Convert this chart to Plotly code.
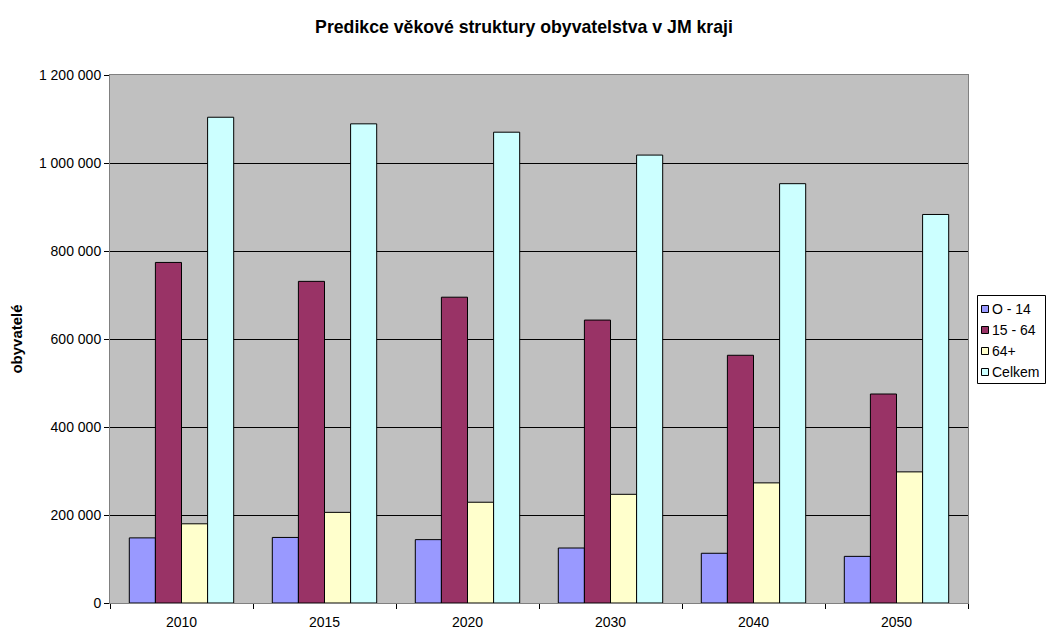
import plotly.graph_objects as go

years = ["2010", "2015", "2020", "2030", "2040", "2050"]
series_names = ["O - 14", "15 - 64", "64+", "Celkem"]
age_0_14 = [148000, 149000, 144000, 125000, 113000, 106000]
age_15_64 = [774000, 731000, 695000, 643000, 563000, 475000]
age_64_plus = [180000, 206000, 229000, 247000, 273000, 298000]
total = [1104000, 1089000, 1070000, 1018000, 953000, 883000]
y_ticks = [0, 200000, 400000, 600000, 800000, 1000000, 1200000]

colors = ["#9999FF", "#993366", "#FFFFCC", "#CCFFFF"]
values = [age_0_14, age_15_64, age_64_plus, total]

FONT = "Liberation Sans, Arial, sans-serif"
W, H = 1047, 633
L, R, T, B = 110, 79, 75, 30
PW, PH = W - L - R, H - T - B


def px_x(px):
    return (px - L) / PW


def px_y(py):
    return (H - B - py) / PH


fig = go.Figure()
for name, vals, col in zip(series_names, values, colors):
    fig.add_trace(go.Bar(
        x=years, y=vals, name=name, showlegend=False,
        marker=dict(color=col, line=dict(color="#000000", width=1)),
    ))

# legend box drawn in layout space (narrow Excel-style legend)
shapes = [dict(
    type="rect", xref="paper", yref="paper",
    x0=px_x(977.5), x1=px_x(1045.5), y0=px_y(383.5), y1=px_y(295.5),
    line=dict(color="#000000", width=1), fillcolor="#FFFFFF", layer="above",
)]
annotations = []
row0, row_step = 309, 21
for i, (name, col) in enumerate(zip(series_names, colors)):
    cy = row0 + i * row_step
    shapes.append(dict(
        type="rect", xref="paper", yref="paper",
        x0=px_x(981.5), x1=px_x(988.5), y0=px_y(cy + 3.5), y1=px_y(cy - 3.5),
        line=dict(color="#000000", width=1), fillcolor=col, layer="above",
    ))
    annotations.append(dict(
        text=name, xref="paper", yref="paper",
        x=px_x(989.5), y=px_y(cy), xanchor="left", yanchor="middle",
        showarrow=False, font=dict(family=FONT, size=14, color="#000000"),
    ))

fig.update_layout(
    width=W, height=H,
    margin=dict(l=L, r=R, t=T, b=B, autoexpand=False),
    paper_bgcolor="#FFFFFF",
    plot_bgcolor="#C0C0C0",
    barmode="group",
    bargap=0.27,
    bargroupgap=0,
    separators=", ",
    showlegend=False,
    font=dict(family=FONT, size=14, color="#000000"),
    title=dict(
        text="<b>Predikce věkové struktury obyvatelstva v JM kraji</b>",
        x=524 / W, xref="container", xanchor="center",
        y=1 - 27 / H, yref="container", yanchor="middle",
        font=dict(family=FONT, size=17.7, color="#000000"),
    ),
    shapes=shapes,
    annotations=annotations,
)

fig.update_xaxes(
    type="category",
    showline=True, linecolor="#808080", linewidth=1, mirror=True,
    ticks="outside", tickson="boundaries", ticklen=5, tickcolor="#000000",
    ticklabelstandoff=6,
    showgrid=False,
    tickfont=dict(family=FONT, size=14),
)
fig.update_yaxes(
    range=[0, 1200000],
    tickvals=y_ticks,
    tickformat=",d",
    showline=True, linecolor="#808080", linewidth=1, mirror=True,
    ticks="outside", ticklen=5, tickcolor="#000000",
    showgrid=True, gridcolor="#000000", gridwidth=1,
    zeroline=False,
    tickfont=dict(family=FONT, size=14),
    title=dict(text="<b>obyvatelé</b>", font=dict(family=FONT, size=15), standoff=12),
)

fig.write_html("out.html")
